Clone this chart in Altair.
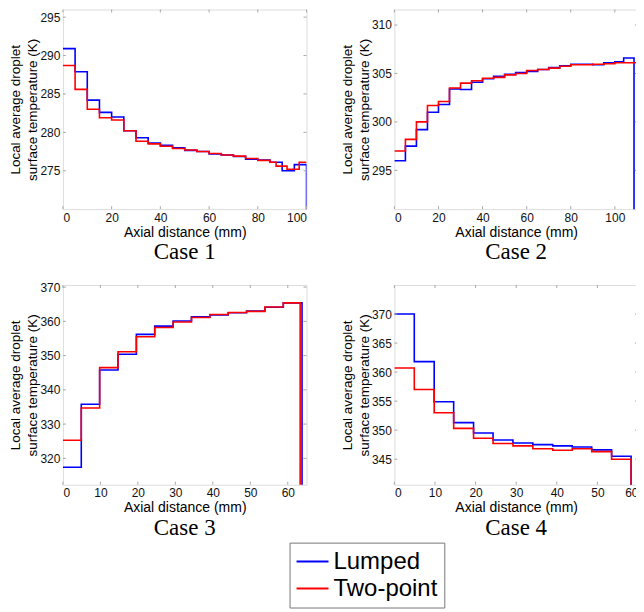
import altair as alt
import pandas as pd

SERIES = ["Lumped", "Two-point"]
COLORS = ["#0000ff", "#ff0000"]

# ---- Case 1 ----
c1_x_lumped = [0, 5, 10, 15, 20, 25, 30, 35, 40, 45, 50, 55, 60, 65, 70, 75, 80, 85, 90, 95]
c1_lumped = [290.9, 287.9, 284.2, 282.6, 282.0, 280.2, 279.3, 278.6, 278.3, 278.0,
             277.65, 277.5, 277.2, 277.05, 276.85, 276.5, 276.4, 276.1, 275.0, 275.8]
c1_end_lumped = 100
c1_x_two = [0, 5, 10, 15, 20, 25, 30, 35, 40, 45, 50, 55, 60, 65, 70, 75, 80, 85, 87.5, 92, 97]
c1_two = [288.7, 285.6, 283.0, 281.9, 281.6, 280.2, 278.85, 278.5, 278.2, 277.9,
          277.7, 277.5, 277.25, 277.05, 276.9, 276.6, 276.35, 276.1, 275.6, 275.2, 276.1]
c1_end_two = 100

# ---- Case 2 ----
c2_x_lumped = [0, 5, 10, 15, 20, 25, 30, 35, 40, 45, 50, 55, 60, 65, 70, 75, 80, 85, 90, 95, 100, 104]
c2_lumped = [296.0, 297.5, 299.2, 301.0, 301.8, 303.4, 303.35, 304.1, 304.45, 304.7, 304.9,
             305.1, 305.2, 305.4, 305.6, 305.8, 305.95, 305.95, 305.9, 306.1, 306.2, 306.6]
c2_end_lumped = 108.7
c2_x_two = [0, 5, 10, 15, 20, 25, 30, 35, 40, 45, 50, 55, 60, 65, 70, 75, 80, 85, 90, 95, 100]
c2_two = [297.0, 298.2, 300.0, 301.7, 302.1, 303.5, 304.0, 304.25, 304.5, 304.6, 304.85,
          305.0, 305.3, 305.4, 305.55, 305.75, 305.9, 305.9, 305.95, 306.0, 306.1]
c2_end_two = 110.1

# ---- Case 3 ----
c3_x = [0, 4.9, 9.8, 14.7, 19.6, 24.5, 29.4, 34.3, 39.2, 44.1, 49.0, 53.9, 58.8]
c3_lumped = [317.4, 335.8, 345.8, 350.4, 356.2, 358.6, 360.1, 361.3, 361.9, 362.5, 363.0, 364.1, 365.4]
c3_two = [325.3, 334.7, 346.5, 351.1, 355.5, 358.2, 359.8, 361.1, 362.0, 362.6, 362.9, 364.2, 365.4]
c3_end_lumped = 63.8
c3_end_two = 63.3

# ---- Case 4 ----
c4_x = [0, 4.9, 9.8, 14.6, 19.5, 24.3, 29.2, 34.1, 39.0, 43.8, 48.6, 53.5]
c4_lumped = [370.0, 361.8, 354.9, 351.3, 349.5, 348.3, 347.8, 347.5, 347.3, 347.1, 346.6, 345.5]
c4_two = [360.7, 357.0, 353.0, 350.3, 348.6, 347.7, 347.3, 346.8, 346.55, 346.8, 346.3, 345.0]
c4_end_lumped = 58.3
c4_end_two = 58.3

# axis ticks
c1_xticks = [0, 20, 40, 60, 80, 100]
c1_yticks = [275, 280, 285, 290, 295]
c2_xticks = [0, 20, 40, 60, 80, 100]
c2_yticks = [295, 300, 305, 310]
c3_xticks = [0, 10, 20, 30, 40, 50, 60]
c3_yticks = [320, 330, 340, 350, 360, 370]
c4_xticks = [0, 10, 20, 30, 40, 50, 60]
c4_yticks = [345, 350, 355, 360, 365, 370]

W, H = 244, 200
FONT = "Liberation Sans"
TICK_COLOR = "#a8a8a8"


def series_rows(name, xs, vals, end, drop, low):
    rows = [{"x": x, "T": v, "s": name, "o": i} for i, (x, v) in enumerate(zip(xs, vals))]
    n = len(rows)
    rows.append({"x": end, "T": vals[-1], "s": name, "o": n})
    if drop:
        rows.append({"x": end, "T": low, "s": name, "o": n + 1})
    return rows


def panel(lx, lv, lend, ldrop, tx, tv, tend, tdrop, xdom, ydom, xticks, yticks, title):
    low = ydom[0] - 20
    rows = series_rows("Lumped", lx, lv, lend, ldrop, low) + series_rows("Two-point", tx, tv, tend, tdrop, low)
    df = pd.DataFrame(rows)
    xaxis = alt.Axis(values=xticks, title="Axial distance (mm)", ticks=False, domain=False, grid=False,
                     labelFont=FONT, labelFontSize=12, labelColor="#111", labelPadding=3,
                     titleFont=FONT, titleFontSize=14, titleFontWeight="normal", titleColor="#000",
                     titlePadding=2)
    yaxis = alt.Axis(values=yticks, title=["Local average droplet", "surface temperature (K)"],
                     ticks=False, domain=False, grid=False,
                     labelFont=FONT, labelFontSize=12, labelColor="#111", labelPadding=3,
                     titleFont=FONT, titleFontSize=13.5, titleFontWeight="normal", titleColor="#000",
                     titleLineHeight=17, titlePadding=0)
    xs = alt.Scale(domain=xdom, nice=False, zero=False)
    ys = alt.Scale(domain=ydom, nice=False, zero=False)
    X = alt.X("x:Q", scale=xs, axis=xaxis)
    Y = alt.Y("T:Q", scale=ys, axis=yaxis)
    lines = alt.Chart(df).mark_line(interpolate="step-after", strokeWidth=1.6, clip=True).encode(
        x=X, y=Y,
        color=alt.Color("s:N", scale=alt.Scale(domain=SERIES, range=COLORS),
                        legend=alt.Legend(title=None, orient="none", legendX=227, legendY=534,
                                          symbolType="stroke", symbolSize=1024, symbolStrokeWidth=2,
                                          labelFont=FONT, labelFontSize=24, labelColor="#000",
                                          labelOffset=4, clipHeight=26, rowPadding=1,
                                          padding=6, strokeColor="#777", fillColor="white")),
        order="o:Q",
    )
    xt = pd.DataFrame({"x": xticks})
    yt = pd.DataFrame({"T": yticks})
    bottom = alt.Chart(xt).mark_rule(color=TICK_COLOR).encode(x=X, y=alt.value(H), y2=alt.value(H - 3))
    top = alt.Chart(xt).mark_rule(color=TICK_COLOR).encode(x=X, y=alt.value(0), y2=alt.value(3))
    left = alt.Chart(yt).mark_rule(color=TICK_COLOR).encode(y=Y, x=alt.value(0), x2=alt.value(3))
    right = alt.Chart(yt).mark_rule(color=TICK_COLOR).encode(y=Y, x=alt.value(W - 3), x2=alt.value(W))
    return alt.layer(lines, bottom, top, left, right).properties(
        width=W, height=H,
        title=alt.TitleParams(text=title, orient="bottom", font="Liberation Serif", fontSize=23,
                              fontWeight="normal", color="#000", anchor="middle", offset=2),
    )


p1 = panel(c1_x_lumped, c1_lumped, c1_end_lumped, True, c1_x_two, c1_two, c1_end_two, False,
           [0, 100], [270, 296], c1_xticks, c1_yticks, "Case 1")
p2 = panel(c2_x_lumped, c2_lumped, c2_end_lumped, True, c2_x_two, c2_two, c2_end_two, True,
           [0, 110.5], [291, 311.6], c2_xticks, c2_yticks, "Case 2")
p3 = panel(c3_x, c3_lumped, c3_end_lumped, True, c3_x, c3_two, c3_end_two, True,
           [0, 65], [312.3, 370.6], c3_xticks, c3_yticks, "Case 3")
p4 = panel(c4_x, c4_lumped, c4_end_lumped, True, c4_x, c4_two, c4_end_two, True,
           [0, 60], [340.6, 375], c4_xticks, c4_yticks, "Case 4")

chart = alt.concat(p1, p2, p3, p4, columns=2, spacing={"row": 76, "column": 88}, bounds="flush").resolve_scale(
    color="shared"
).properties(
    padding={"left": 0, "top": 0, "right": -3, "bottom": 0}
).configure_view(stroke="#c4c4c4", strokeWidth=1).configure(background="white")

chart.save("out.html", embed_options={"renderer": "svg", "actions": False})
